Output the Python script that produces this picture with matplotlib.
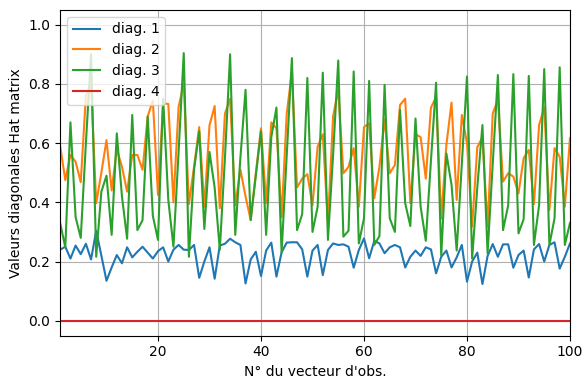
import numpy as np
import matplotlib
matplotlib.use("Agg")
import matplotlib.pyplot as plt

obs = np.arange(1, 101)

diag1 = [0.24, 0.25, 0.21, 0.254, 0.225, 0.26, 0.207, 0.304, 0.22, 0.135,
         0.18, 0.222, 0.194, 0.248, 0.214, 0.233, 0.25, 0.23, 0.21, 0.235,
         0.248, 0.2, 0.24, 0.256, 0.24, 0.239, 0.256, 0.145, 0.2, 0.248,
         0.142, 0.254, 0.26, 0.277, 0.265, 0.256, 0.126, 0.207, 0.233, 0.151,
         0.237, 0.264, 0.149, 0.231, 0.264, 0.265, 0.265, 0.241, 0.149, 0.237,
         0.256, 0.154, 0.239, 0.261, 0.256, 0.258, 0.25, 0.179, 0.239, 0.278,
         0.211, 0.27, 0.261, 0.228, 0.248, 0.256, 0.248, 0.18, 0.216, 0.237,
         0.219, 0.248, 0.241, 0.16, 0.216, 0.237, 0.18, 0.214, 0.256, 0.132,
         0.2, 0.23, 0.124, 0.219, 0.259, 0.216, 0.258, 0.258, 0.179, 0.222,
         0.237, 0.146, 0.241, 0.259, 0.2, 0.256, 0.265, 0.176, 0.216, 0.261]

diag2 = [0.59, 0.475, 0.56, 0.537, 0.468, 0.76, 0.8, 0.397, 0.5, 0.61,
         0.44, 0.58, 0.52, 0.436, 0.56, 0.56, 0.51, 0.69, 0.744, 0.425,
         0.735, 0.732, 0.4, 0.723, 0.8, 0.394, 0.52, 0.654, 0.385, 0.66,
         0.725, 0.38, 0.7, 0.75, 0.39, 0.51, 0.42, 0.34, 0.5, 0.65,
         0.397, 0.67, 0.65, 0.35, 0.7, 0.84, 0.45, 0.48, 0.495, 0.39,
         0.588, 0.63, 0.33, 0.69, 0.78, 0.498, 0.52, 0.583, 0.385, 0.654,
         0.667, 0.414, 0.52, 0.68, 0.498, 0.526, 0.729, 0.75, 0.397, 0.63,
         0.62, 0.48, 0.72, 0.755, 0.345, 0.594, 0.737, 0.408, 0.695, 0.6,
         0.318, 0.586, 0.62, 0.318, 0.7, 0.746, 0.47, 0.498, 0.487, 0.43,
         0.549, 0.577, 0.394, 0.661, 0.72, 0.374, 0.583, 0.554, 0.385, 0.616]

diag3 = [0.33, 0.248, 0.67, 0.35, 0.28, 0.6, 0.9, 0.216, 0.436, 0.49,
         0.29, 0.633, 0.42, 0.277, 0.695, 0.306, 0.34, 0.69, 0.354, 0.273,
         0.75, 0.408, 0.25, 0.57, 0.904, 0.216, 0.51, 0.64, 0.31, 0.57,
         0.45, 0.24, 0.55, 0.9, 0.29, 0.55, 0.78, 0.34, 0.49, 0.64,
         0.29, 0.62, 0.72, 0.23, 0.56, 0.887, 0.306, 0.36, 0.82, 0.3,
         0.385, 0.838, 0.273, 0.56, 0.879, 0.284, 0.304, 0.842, 0.261, 0.346,
         0.81, 0.256, 0.286, 0.797, 0.346, 0.3, 0.712, 0.397, 0.32, 0.683,
         0.385, 0.27, 0.54, 0.804, 0.22, 0.565, 0.459, 0.237, 0.53, 0.825,
         0.21, 0.45, 0.661, 0.228, 0.53, 0.83, 0.306, 0.39, 0.833, 0.295,
         0.343, 0.827, 0.256, 0.39, 0.85, 0.256, 0.346, 0.856, 0.256, 0.33]

diag4 = [0.0] * len(obs)

fig = plt.figure(figsize=(5.84, 3.80), dpi=100)
ax = fig.add_axes([0.103, 0.117, 0.873, 0.857])

ax.plot(obs, diag1, label="diag. 1")
ax.plot(obs, diag2, label="diag. 2")
ax.plot(obs, diag3, label="diag. 3")
ax.plot(obs, diag4, label="diag. 4")

ax.set_xlim(1, 100)
ax.set_ylim(-0.05, 1.05)
ax.grid(True)
ax.set_xlabel("N° du vecteur d'obs.")
ax.set_ylabel("Valeurs diagonales Hat matrix")
ax.legend(loc="upper left")

fig.savefig("out.png", dpi=100)
